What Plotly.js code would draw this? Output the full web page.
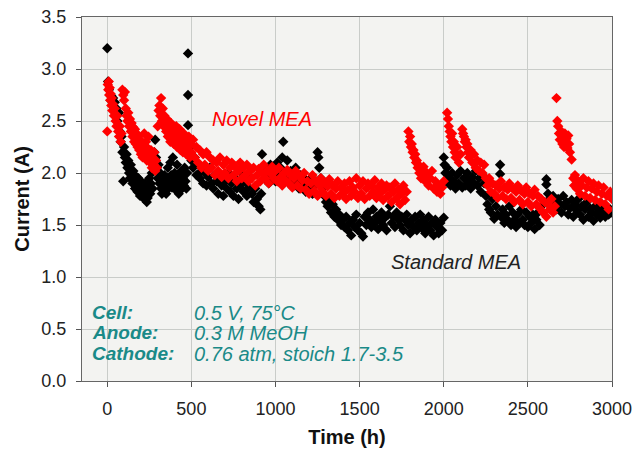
<!DOCTYPE html>
<html>
<head>
<meta charset="utf-8">
<script src="https://cdn.plot.ly/plotly-3.0.1.min.js"></script>
<style>html,body{margin:0;padding:0;background:#fff;}#chart{width:636px;height:451px;}</style>
</head>
<body>
<div id="chart"></div>
<script>
// Standard MEA (black)
var stdTime = [0,5,10,15,20,25,30,35,40,45,50,55,60,65,70,75,80,85,90,95,100,105,110,115,120,125,130,135,140,145,150,155,160,165,170,175,180,185,190,195,200,205,210,215,220,225,230,235,240,245,250,255,260,265,270,275,280,285,290,295,300,305,310,315,320,325,330,335,340,345,350,355,360,365,370,375,380,385,390,395,400,405,410,415,420,425,430,435,440,445,450,455,460,465,470,475,480,480,480,485,490,495,500,510,520,530,540,550,560,570,580,590,600,610,620,630,640,650,660,670,680,690,700,710,720,730,740,750,760,770,780,790,800,810,820,830,840,850,860,870,880,890,900,910,915,920,930,940,950,960,970,980,990,1000,1010,1020,1030,1040,1046,1050,1060,1070,1080,1090,1100,1110,1120,1130,1140,1150,1160,1170,1180,1190,1200,1210,1220,1230,1240,1250,1255,1260,1270,1280,1290,1300,1310,1320,1330,1340,1350,1360,1370,1380,1390,1400,1410,1420,1430,1440,1450,1460,1470,1480,1490,1500,1510,1520,1530,1540,1550,1560,1570,1580,1590,1600,1610,1620,1630,1640,1650,1660,1670,1680,1690,1700,1710,1720,1730,1740,1750,1760,1770,1780,1790,1800,1810,1820,1830,1840,1850,1860,1870,1880,1890,1900,1910,1920,1930,1940,1950,1960,1970,1980,1990,2000,2000,2005,2010,2015,2020,2030,2040,2050,2060,2070,2080,2090,2100,2110,2120,2130,2140,2150,2160,2170,2180,2190,2200,2210,2220,2230,2240,2250,2260,2270,2280,2290,2300,2310,2320,2335,2335,2340,2350,2360,2370,2380,2390,2400,2410,2420,2430,2440,2450,2460,2470,2480,2490,2500,2510,2520,2530,2540,2550,2560,2570,2580,2600,2610,2610,2620,2630,2640,2650,2660,2670,2680,2690,2700,2710,2720,2730,2740,2750,2760,2770,2780,2790,2800,2810,2820,2830,2840,2850,2860,2870,2880,2890,2900,2910,2920,2930,2940,2950,2960,2970,2980,2990,3000];
var stdCurrent = [3.20,2.88,2.80,2.75,2.70,2.74,2.65,2.72,2.60,2.68,2.55,2.62,2.50,2.45,2.58,2.40,2.30,2.35,2.20,1.92,2.25,2.15,2.10,2.18,2.05,2.12,2.00,1.95,2.08,1.98,1.90,2.02,1.93,1.85,1.97,1.88,1.82,1.95,1.86,1.78,1.92,1.84,1.80,1.88,1.75,1.90,1.82,1.72,1.76,1.85,1.95,1.80,1.90,2.00,1.85,2.10,2.20,2.32,2.15,2.05,1.95,2.08,1.90,2.00,1.85,1.80,1.92,1.84,1.98,1.88,1.80,1.95,2.05,1.85,1.90,2.10,1.98,1.86,2.15,1.92,2.00,1.84,1.95,2.08,1.88,1.80,1.98,1.90,2.02,1.85,1.95,1.88,2.05,1.92,1.85,2.00,3.15,2.75,2.46,2.30,2.20,2.25,2.12,2.05,2.15,1.98,2.08,1.95,2.02,1.90,2.00,1.88,1.96,2.05,1.90,1.85,1.98,1.92,1.80,1.95,1.88,1.78,1.92,1.85,2.00,1.82,1.90,1.78,1.95,1.85,1.75,1.88,2.00,1.82,1.92,1.78,1.86,1.95,1.80,1.72,1.85,1.75,1.68,1.65,1.80,2.18,2.05,1.95,2.00,1.90,2.08,1.95,2.02,1.92,2.10,1.98,2.05,2.15,2.30,1.95,2.00,2.12,1.90,2.02,1.95,1.88,2.05,1.92,1.85,1.98,1.88,1.95,1.82,1.90,1.85,1.95,1.80,1.88,1.92,2.20,2.15,2.05,1.95,1.85,1.78,1.72,1.68,1.75,1.62,1.70,1.58,1.65,1.55,1.60,1.50,1.55,1.48,1.58,1.45,1.52,1.40,1.55,1.48,1.60,1.45,1.52,1.42,1.39,1.58,1.50,1.62,1.55,1.48,1.65,1.52,1.58,1.46,1.55,1.62,1.50,1.57,1.45,1.60,1.68,1.52,1.58,1.48,1.62,1.55,1.50,1.58,1.45,1.55,1.60,1.50,1.42,1.55,1.48,1.58,1.45,1.52,1.60,1.47,1.55,1.42,1.50,1.58,1.45,1.52,1.40,1.55,1.48,1.42,1.52,1.45,1.57,2.15,2.08,2.00,1.92,2.05,1.95,1.88,2.00,1.92,1.85,1.98,1.90,2.02,1.86,1.95,1.88,2.00,1.92,1.85,1.96,1.90,2.02,1.88,1.95,1.82,1.98,1.90,1.78,1.70,1.65,1.62,1.75,1.56,1.68,1.60,2.08,1.99,1.58,1.65,1.52,1.60,1.55,1.68,1.50,1.62,1.55,1.48,1.60,1.52,1.65,1.55,1.50,1.62,1.48,1.58,1.52,1.60,1.46,1.55,1.62,1.50,1.68,1.72,1.94,1.89,1.80,1.75,1.68,1.78,1.72,1.65,1.75,1.70,1.62,1.78,1.68,1.72,1.60,1.66,1.74,1.58,1.70,1.64,1.75,1.60,1.68,1.55,1.65,1.72,1.58,1.66,1.62,1.54,1.68,1.60,1.65,1.57,1.70,1.62,1.58,1.66,1.60,1.65,1.62];

// Novel MEA (red)
var novTime = [0,3,6,9,12,15,18,21,24,27,30,35,40,45,50,55,60,65,70,75,80,85,90,95,100,105,110,115,120,125,130,135,140,145,150,155,160,165,170,175,180,185,190,195,200,205,210,215,220,225,230,235,240,245,250,255,260,265,270,275,280,285,290,295,300,305,310,315,320,325,330,335,340,345,350,355,360,365,370,375,380,385,390,395,400,405,410,415,420,425,430,435,440,445,450,455,460,465,470,475,480,485,490,495,500,510,520,530,540,550,560,570,580,590,600,610,620,630,640,650,660,670,680,690,700,710,720,730,740,750,760,770,780,790,800,810,820,830,840,850,860,870,880,890,900,910,920,930,940,950,960,970,980,990,1000,1010,1020,1030,1040,1050,1060,1070,1080,1090,1100,1110,1120,1130,1140,1150,1160,1170,1180,1190,1200,1210,1220,1230,1240,1250,1260,1270,1280,1290,1300,1310,1320,1330,1340,1350,1360,1370,1380,1390,1400,1410,1420,1430,1440,1450,1460,1470,1480,1490,1500,1510,1520,1530,1540,1550,1560,1570,1580,1590,1600,1610,1620,1630,1640,1650,1660,1670,1680,1690,1700,1710,1720,1730,1740,1750,1760,1770,1780,1790,1795,1800,1805,1810,1815,1820,1825,1830,1835,1840,1845,1850,1855,1860,1865,1870,1875,1880,1890,1900,1910,1920,1930,1940,1950,1960,1970,1980,1990,2000,2020,2025,2030,2035,2040,2045,2050,2055,2060,2065,2070,2080,2090,2100,2110,2115,2120,2125,2130,2135,2140,2145,2150,2160,2170,2180,2190,2200,2210,2220,2230,2240,2250,2260,2270,2280,2290,2300,2310,2320,2330,2340,2350,2360,2370,2380,2390,2400,2410,2420,2430,2440,2450,2460,2470,2480,2490,2500,2510,2520,2530,2540,2550,2560,2570,2580,2590,2600,2610,2620,2630,2640,2650,2660,2670,2675,2680,2685,2690,2700,2705,2710,2715,2720,2725,2730,2735,2740,2745,2750,2760,2770,2775,2780,2790,2800,2810,2820,2830,2840,2850,2860,2870,2880,2890,2900,2910,2920,2930,2940,2950,2960,2970,2980,2990,3000];
var novCurrent = [2.40,2.85,2.80,2.88,2.75,2.82,2.70,2.76,2.65,2.72,2.60,2.66,2.55,2.62,2.50,2.45,2.55,2.40,2.35,2.45,2.30,2.38,2.80,2.75,2.70,2.78,2.62,2.55,2.50,2.58,2.45,2.52,2.40,2.48,2.35,2.44,2.30,2.42,2.28,2.38,2.25,2.35,2.22,2.32,2.18,2.28,2.15,2.25,2.38,2.20,2.30,2.12,2.24,2.35,2.18,2.10,2.22,2.05,2.15,2.08,2.20,2.02,2.12,2.05,2.45,2.60,2.65,2.55,2.72,2.50,2.62,2.45,2.55,2.48,2.40,2.52,2.35,2.45,2.38,2.30,2.48,2.35,2.42,2.28,2.40,2.32,2.45,2.25,2.38,2.30,2.42,2.22,2.35,2.28,2.20,2.38,2.25,2.32,2.18,2.30,2.22,2.35,2.15,2.28,2.20,2.32,2.15,2.25,2.10,2.22,2.05,2.18,2.08,2.20,2.02,2.15,2.05,2.12,1.98,2.10,2.02,2.15,1.96,2.08,2.00,2.12,1.95,2.05,2.10,1.98,2.06,1.92,2.02,2.10,1.95,2.05,1.98,2.08,1.92,2.02,1.95,2.05,1.88,1.98,2.04,1.92,2.00,2.08,1.95,2.02,1.90,2.00,2.06,1.95,2.02,1.92,2.05,1.96,1.88,2.00,1.93,2.03,1.90,1.98,1.86,1.95,2.02,1.88,1.97,1.85,1.93,2.00,1.84,1.92,1.80,1.90,1.98,1.83,1.92,1.78,1.88,1.95,1.82,1.90,1.78,1.87,1.94,1.80,1.88,1.76,1.85,1.92,1.78,1.86,1.80,1.90,1.75,1.84,1.92,1.78,1.86,1.82,1.95,1.76,1.88,1.80,1.92,1.75,1.85,1.90,1.78,1.88,1.82,1.93,1.76,1.86,1.80,1.90,1.74,1.84,1.88,1.78,1.86,1.72,1.82,1.90,1.76,1.84,1.70,1.80,1.88,1.74,1.82,2.40,2.30,2.35,2.25,2.28,2.20,2.22,2.15,2.18,2.10,2.12,2.05,2.08,2.00,2.05,1.95,2.02,1.98,2.06,1.92,2.00,1.88,1.95,2.02,1.85,1.92,1.82,1.88,1.80,1.86,1.92,2.58,2.52,2.45,2.40,2.35,2.30,2.38,2.25,2.30,2.20,2.15,2.25,2.10,2.18,2.42,2.38,2.35,2.30,2.32,2.25,2.28,2.20,2.15,2.22,2.10,2.18,2.05,2.12,2.02,2.10,2.00,2.08,1.95,1.88,1.95,1.82,1.90,1.80,1.88,1.76,1.85,1.92,1.78,1.86,1.75,1.84,1.90,1.76,1.85,1.72,1.82,1.88,1.74,1.83,1.70,1.80,1.86,1.72,1.80,1.68,1.78,1.84,1.70,1.78,1.66,1.75,1.62,1.72,1.58,1.70,1.65,1.75,1.62,1.68,2.72,2.50,2.45,2.38,2.32,2.40,2.28,2.35,2.25,2.38,2.30,2.33,2.24,2.36,2.28,2.20,2.13,1.95,1.88,1.98,1.85,1.92,1.80,1.88,1.95,1.78,1.86,1.92,1.76,1.85,1.90,1.74,1.82,1.88,1.72,1.80,1.86,1.70,1.78,1.65,1.82,1.75];

var xTicks = [0,500,1000,1500,2000,2500,3000];
var yTicks = [0,0.5,1,1.5,2,2.5,3,3.5];

var traces = [
  {x: stdTime, y: stdCurrent, type: 'scatter', mode: 'markers', name: 'Standard MEA',
   marker: {symbol: 'diamond', size: 8, color: '#000000'}},
  {x: novTime, y: novCurrent, type: 'scatter', mode: 'markers', name: 'Novel MEA',
   marker: {symbol: 'diamond', size: 8, color: '#ff0000'}}
];

var teal = '#1a8a88';
var fnt = 'Liberation Sans, Arial, sans-serif';
var layout = {
  width: 636, height: 451,
  margin: {l: 82, r: 24, t: 17, b: 70},
  paper_bgcolor: '#ffffff',
  plot_bgcolor: '#f3f3f1',
  showlegend: false,
  font: {family: fnt, size: 18, color: '#222'},
  xaxis: {
    range: [-150, 3000], tickvals: xTicks, ticks: 'outside', ticklen: 5, tickcolor: '#555',
    showgrid: true, gridcolor: '#c9ccc9', gridwidth: 1, zeroline: false,
    showline: true, linecolor: '#666', linewidth: 1, mirror: true,
    tickfont: {family: fnt, size: 18, color: '#222'}, ticklabelstandoff: 6,
    title: {text: '<b>Time (h)</b>', font: {family: fnt, size: 20, color: '#111'}, standoff: 12}
  },
  yaxis: {
    range: [0, 3.5], tickvals: yTicks, tickformat: '.1f', ticks: 'outside', ticklen: 5, tickcolor: '#555',
    showgrid: true, gridcolor: '#c9ccc9', gridwidth: 1, zeroline: false,
    showline: true, linecolor: '#666', linewidth: 1, mirror: true,
    tickfont: {family: fnt, size: 18, color: '#222'}, ticklabelstandoff: 6,
    title: {text: '<b>Current (A)</b>', font: {family: fnt, size: 20, color: '#111'}, standoff: 6}
  },
  annotations: [
    {x: 920, y: 2.52, xref: 'x', yref: 'y', text: '<i>Novel MEA</i>', showarrow: false,
     font: {family: fnt, size: 20, color: '#ff0000'}},
    {x: 2070, y: 1.14, xref: 'x', yref: 'y', text: '<i>Standard MEA</i>', showarrow: false,
     font: {family: fnt, size: 20, color: '#222'}},
    {x: -101, y: 0.656, xref: 'x', yref: 'y', xanchor: 'left', text: '<b><i>Cell:</i></b>', showarrow: false,
     font: {family: fnt, size: 19, color: teal}},
    {x: -101, y: 0.463, xref: 'x', yref: 'y', xanchor: 'left', text: '<b><i>Anode:</i></b>', showarrow: false,
     font: {family: fnt, size: 19, color: teal}},
    {x: -101, y: 0.26, xref: 'x', yref: 'y', xanchor: 'left', text: '<b><i>Cathode:</i></b>', showarrow: false,
     font: {family: fnt, size: 19, color: teal}},
    {x: 505, y: 0.656, xref: 'x', yref: 'y', xanchor: 'left', text: '<i>0.5 V, 75°C</i>', showarrow: false,
     font: {family: fnt, size: 20, color: teal}},
    {x: 505, y: 0.463, xref: 'x', yref: 'y', xanchor: 'left', text: '<i>0.3 M MeOH</i>', showarrow: false,
     font: {family: fnt, size: 20, color: teal}},
    {x: 505, y: 0.26, xref: 'x', yref: 'y', xanchor: 'left', text: '<i>0.76 atm, stoich 1.7-3.5</i>', showarrow: false,
     font: {family: fnt, size: 20, color: teal}}
  ]
};

Plotly.newPlot('chart', traces, layout, {displayModeBar: false, staticPlot: true});
</script>
</body>
</html>
